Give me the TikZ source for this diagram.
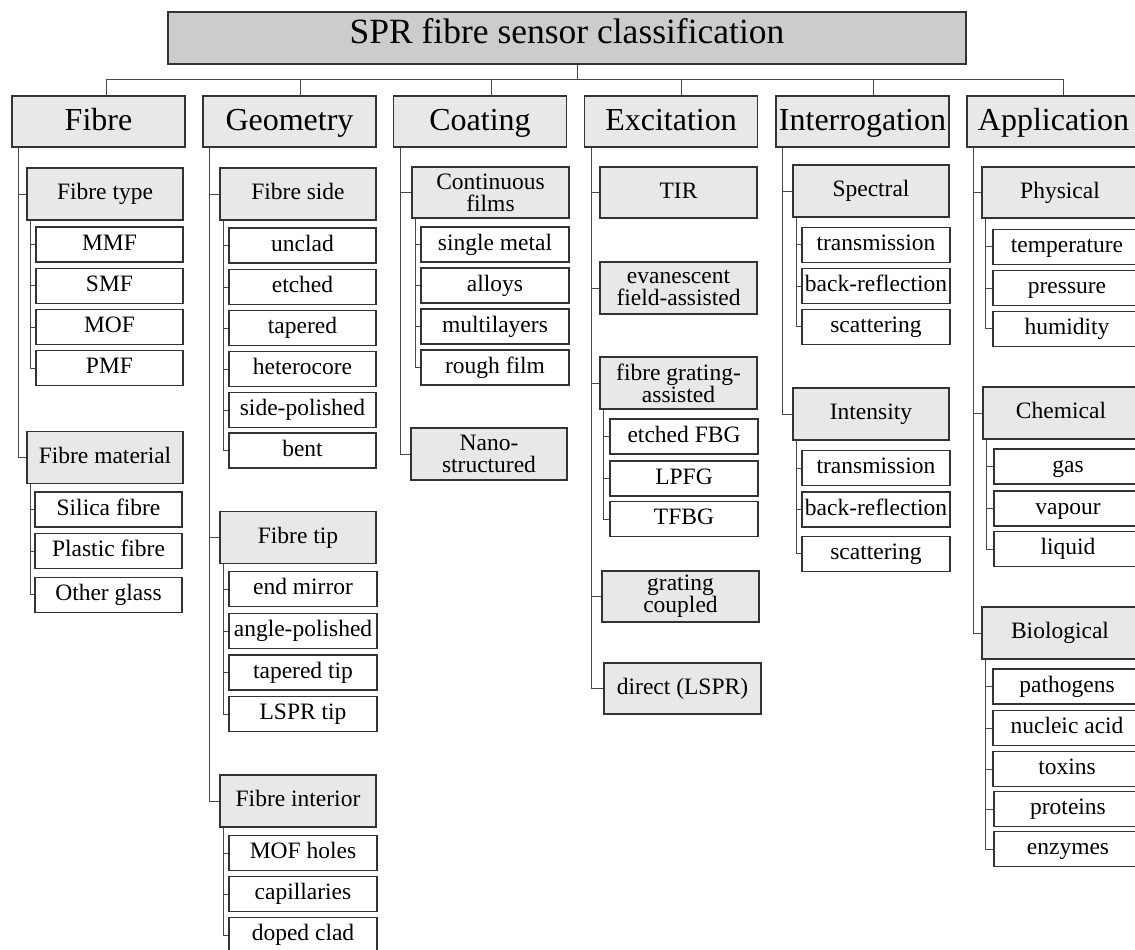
\documentclass[tikz,border=0pt]{standalone}
\usepackage{fontspec}
\setmainfont{Liberation Serif}
\tikzset{
  base/.style={draw=black!80, line width=1.1, inner sep=0pt, align=center, text height=16.5pt, text depth=5.5pt},
  multi/.style={text height=, text depth=},
  titlebox/.style={base, fill=black!20, minimum width=798, minimum height=52, font=\fontsize{35.5}{38}\selectfont, text height=21.3pt, text depth=10.7pt},
  lone/.style={base, fill=black!9, minimum width=173, minimum height=51, font=\fontsize{32}{33}\selectfont, text height=24pt, text depth=5.4pt},
  ltwo/.style={base, fill=black!9, minimum width=156, minimum height=52, font=\fontsize{23.5}{21.7}\selectfont},
  lthree/.style={base, fill=white, minimum width=148, minimum height=35, font=\fontsize{23.5}{21.7}\selectfont},
  conn/.style={draw=black!72, line width=1},
}
\newcommand{\trunk}[2]{\draw[conn] ([xshift=7.5]#1.south west) |- (#2.west);}
\newcommand{\sub}[2]{\draw[conn] ([xshift=4]#1.south west) |- (#2.west);}
\begin{document}
\begin{tikzpicture}[x=1pt,y=-1pt]
\useasboundingbox (0,0) rectangle (1135,950);
% title
\node[titlebox] (title) at (567,38) {SPR fibre sensor classification};
% level 1
\node[lone] (fibre) at (98.5,121.5) {Fibre};
\node[lone] (geom) at (289.5,121.5) {Geometry};
\node[lone] (coat) at (480,121.5) {Coating};
\node[lone] (exc) at (671,121.5) {Excitation};
\node[lone] (intr) at (862.5,121.5) {Interrogation};
\node[lone] (app) at (1053.5,121.5) {Application};
\coordinate (tt) at ([xshift=10.7]title.south);
\draw[conn] (tt) -- ++(0,15) -| ([xshift=7.5]fibre.north);
\draw[conn] (tt) -- ++(0,15) -| ([xshift=10.5]geom.north);
\draw[conn] (tt) -- ++(0,15) -| ([xshift=11]coat.north);
\draw[conn] (tt) -- ++(0,15) -| ([xshift=10.7]exc.north);
\draw[conn] (tt) -- ++(0,15) -| ([xshift=10.5]intr.north);
\draw[conn] (tt) -- ++(0,15) -| ([xshift=9.5]app.north);
% Fibre
\node[ltwo] (ftype) at (105,194) {Fibre type};
\node[lthree, minimum width=147] (mmf) at (109.5,244.5) {MMF};
\node[lthree, minimum width=147] (smf) at (109.5,285.8) {SMF};
\node[lthree, minimum width=147] (mof) at (109.5,327) {MOF};
\node[lthree, minimum width=147] (pmf) at (109.5,368.3) {PMF};
\node[ltwo] (fmat) at (105,457.5) {Fibre material};
\node[lthree, minimum width=147] (silica) at (108.5,509.5) {Silica fibre};
\node[lthree, minimum width=147] (plastic) at (108.5,551.3) {Plastic fibre};
\node[lthree, minimum width=147] (other) at (108.5,594.8) {Other glass};
\trunk{fibre}{ftype} \trunk{fibre}{fmat}
\sub{ftype}{mmf} \sub{ftype}{smf} \sub{ftype}{mof} \sub{ftype}{pmf}
\sub{fmat}{silica} \sub{fmat}{plastic} \sub{fmat}{other}
% Geometry
\node[ltwo] (fside) at (298,194) {Fibre side};
\node[lthree, minimum width=147] (unclad) at (302.5,245.5) {unclad};
\node[lthree, minimum width=147] (etched) at (302.5,287) {etched};
\node[lthree, minimum width=147] (tapered) at (302.5,328) {tapered};
\node[lthree, minimum width=147] (hetero) at (302.5,369) {heterocore};
\node[lthree, minimum width=147] (sidepol) at (302.5,410) {side-polished};
\node[lthree, minimum width=147] (bent) at (302.5,450.5) {bent};
\node[ltwo] (ftip) at (298,537.5) {Fibre tip};
\node[lthree] (endm) at (303,589) {end mirror};
\node[lthree] (angle) at (303,631) {angle-polished};
\node[lthree] (taptip) at (303,672.5) {tapered tip};
\node[lthree] (lsprtip) at (303,714) {LSPR tip};
\node[ltwo] (fint) at (298,801) {Fibre interior};
\node[lthree] (mofh) at (303,853) {MOF holes};
\node[lthree] (capil) at (303,894) {capillaries};
\node[lthree] (doped) at (303,935) {doped clad};
\trunk{geom}{fside} \trunk{geom}{ftip} \trunk{geom}{fint}
\sub{fside}{unclad} \sub{fside}{etched} \sub{fside}{tapered} \sub{fside}{hetero} \sub{fside}{sidepol} \sub{fside}{bent}
\sub{ftip}{endm} \sub{ftip}{angle} \sub{ftip}{taptip} \sub{ftip}{lsprtip}
\sub{fint}{mofh} \sub{fint}{capil} \sub{fint}{doped}
% Coating
\node[ltwo, multi, minimum width=157, minimum height=51] (cfilms) at (490.5,192.5) {Continuous\\films};
\node[lthree] (single) at (495,244.5) {single metal};
\node[lthree] (alloys) at (495,285.5) {alloys};
\node[lthree] (multi) at (495,326.5) {multilayers};
\node[lthree] (rough) at (495,367.5) {rough film};
\node[ltwo, multi] (nano) at (489,454) {Nano-\\structured};
\trunk{coat}{cfilms} \trunk{coat}{nano}
\sub{cfilms}{single} \sub{cfilms}{alloys} \sub{cfilms}{multi} \sub{cfilms}{rough}
% Excitation
\node[ltwo, minimum width=157, minimum height=51] (tir) at (678.5,192.5) {TIR};
\node[ltwo, multi, minimum width=157] (evan) at (678.5,288) {evanescent\\field-assisted};
\node[ltwo, multi, minimum width=157] (fga) at (678.5,383) {fibre grating-\\assisted};
\node[lthree] (efbg) at (684,436.5) {etched FBG};
\node[lthree] (lpfg) at (684,478.5) {LPFG};
\node[lthree] (tfbg) at (684,519.3) {TFBG};
\node[ltwo, multi, minimum width=157, minimum height=51] (gcoup) at (680.5,596.5) {grating\\coupled};
\node[ltwo, minimum width=157, minimum height=51] (direct) at (682.5,688.5) {direct (LSPR)};
\trunk{exc}{tir} \trunk{exc}{evan} \trunk{exc}{fga} \trunk{exc}{gcoup} \trunk{exc}{direct}
\sub{fga}{efbg} \sub{fga}{lpfg} \sub{fga}{tfbg}
% Interrogation
\node[ltwo] (spec) at (871,191) {Spectral};
\node[lthree] (tra) at (876,244.8) {transmission};
\node[lthree] (bra) at (876,286.2) {back-reflection};
\node[lthree] (sca) at (876,326.8) {scattering};
\node[ltwo] (inten) at (871,414) {Intensity};
\node[lthree] (trb) at (876,468) {transmission};
\node[lthree] (brb) at (876,509.5) {back-reflection};
\node[lthree] (scb) at (876,553.8) {scattering};
\trunk{intr}{spec} \trunk{intr}{inten}
\sub{spec}{tra} \sub{spec}{bra} \sub{spec}{sca}
\sub{inten}{trb} \sub{inten}{brb} \sub{inten}{scb}
% Application
\node[ltwo, minimum height=51] (phys) at (1060,192.5) {Physical};
\node[lthree] (temp) at (1067,246.7) {temperature};
\node[lthree] (press) at (1067,288) {pressure};
\node[lthree] (humid) at (1067,328.8) {humidity};
\node[ltwo] (chem) at (1061,413) {Chemical};
\node[lthree] (gas) at (1068,466.5) {gas};
\node[lthree] (vapour) at (1068,508.5) {vapour};
\node[lthree] (liquid) at (1068,549) {liquid};
\node[ltwo] (bio) at (1060,633) {Biological};
\node[lthree] (path) at (1067,686.5) {pathogens};
\node[lthree] (nucl) at (1067,728.3) {nucleic acid};
\node[lthree] (tox) at (1067,769) {toxins};
\node[lthree] (prot) at (1068,809) {proteins};
\node[lthree] (enz) at (1068,849) {enzymes};
\trunk{app}{phys} \trunk{app}{chem} \trunk{app}{bio}
\sub{phys}{temp} \sub{phys}{press} \sub{phys}{humid}
\sub{chem}{gas} \sub{chem}{vapour} \sub{chem}{liquid}
\sub{bio}{path} \sub{bio}{nucl} \sub{bio}{tox} \sub{bio}{prot} \sub{bio}{enz}
\end{tikzpicture}
\end{document}
